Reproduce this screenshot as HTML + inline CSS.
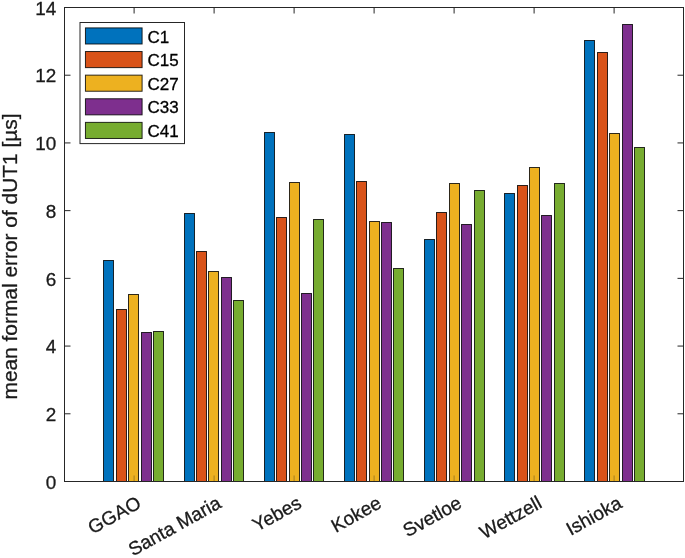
<!DOCTYPE html>
<html lang="en">
<head>
<meta charset="utf-8">
<title>mean formal error of dUT1</title>
<style>
html,body{margin:0;padding:0;background:#fff;}
body{width:685px;height:558px;overflow:hidden;font-family:"Liberation Sans",Arial,Helvetica,sans-serif;}
svg{display:block;will-change:transform;}
</style>
</head>
<body>
<svg width="685" height="558" viewBox="0 0 685 558" font-family="'Liberation Sans', Arial, Helvetica, sans-serif">
<rect x="0" y="0" width="685" height="558" fill="#ffffff"/>
<g stroke="#000" stroke-opacity="0.82" stroke-width="1.0">
<rect x="103.5" y="260.5" width="10" height="221.0" fill="#0072BD"/>
<rect x="116.5" y="309.5" width="10" height="172.0" fill="#D95319"/>
<rect x="128.5" y="294.5" width="10" height="187.0" fill="#EDB120"/>
<rect x="141.5" y="332.5" width="10" height="149.0" fill="#7E2F8E"/>
<rect x="153.5" y="331.5" width="10" height="150.0" fill="#77AC30"/>
<rect x="184.5" y="213.5" width="10" height="268.0" fill="#0072BD"/>
<rect x="196.5" y="251.5" width="10" height="230.0" fill="#D95319"/>
<rect x="208.5" y="271.5" width="10" height="210.0" fill="#EDB120"/>
<rect x="221.5" y="277.5" width="10" height="204.0" fill="#7E2F8E"/>
<rect x="233.5" y="300.5" width="10" height="181.0" fill="#77AC30"/>
<rect x="264.5" y="132.5" width="10" height="349.0" fill="#0072BD"/>
<rect x="276.5" y="217.5" width="10" height="264.0" fill="#D95319"/>
<rect x="289.5" y="182.5" width="10" height="299.0" fill="#EDB120"/>
<rect x="301.5" y="293.5" width="10" height="188.0" fill="#7E2F8E"/>
<rect x="313.5" y="219.5" width="10" height="262.0" fill="#77AC30"/>
<rect x="344.5" y="134.5" width="10" height="347.0" fill="#0072BD"/>
<rect x="356.5" y="181.5" width="10" height="300.0" fill="#D95319"/>
<rect x="369.5" y="221.5" width="10" height="260.0" fill="#EDB120"/>
<rect x="381.5" y="222.5" width="10" height="259.0" fill="#7E2F8E"/>
<rect x="393.5" y="268.5" width="10" height="213.0" fill="#77AC30"/>
<rect x="424.5" y="239.5" width="10" height="242.0" fill="#0072BD"/>
<rect x="436.5" y="212.5" width="10" height="269.0" fill="#D95319"/>
<rect x="449.5" y="183.5" width="10" height="298.0" fill="#EDB120"/>
<rect x="461.5" y="224.5" width="10" height="257.0" fill="#7E2F8E"/>
<rect x="474.5" y="190.5" width="10" height="291.0" fill="#77AC30"/>
<rect x="504.5" y="193.5" width="10" height="288.0" fill="#0072BD"/>
<rect x="517.5" y="185.5" width="10" height="296.0" fill="#D95319"/>
<rect x="529.5" y="167.5" width="10" height="314.0" fill="#EDB120"/>
<rect x="541.5" y="215.5" width="10" height="266.0" fill="#7E2F8E"/>
<rect x="554.5" y="183.5" width="10" height="298.0" fill="#77AC30"/>
<rect x="584.5" y="40.5" width="10" height="441.0" fill="#0072BD"/>
<rect x="597.5" y="52.5" width="10" height="429.0" fill="#D95319"/>
<rect x="609.5" y="133.5" width="10" height="348.0" fill="#EDB120"/>
<rect x="622.5" y="24.5" width="10" height="457.0" fill="#7E2F8E"/>
<rect x="634.5" y="147.5" width="10" height="334.0" fill="#77AC30"/>
</g>
<g stroke="#262626" stroke-width="1" fill="none">
<rect x="64.5" y="7.5" width="619.0" height="474.0"/>
<line x1="134.10" y1="481.5" x2="134.10" y2="475.5" stroke-opacity="0.35"/>
<line x1="134.10" y1="7.5" x2="134.10" y2="13.5"/>
<line x1="214.10" y1="481.5" x2="214.10" y2="475.5" stroke-opacity="0.35"/>
<line x1="214.10" y1="7.5" x2="214.10" y2="13.5"/>
<line x1="294.10" y1="481.5" x2="294.10" y2="475.5" stroke-opacity="0.35"/>
<line x1="294.10" y1="7.5" x2="294.10" y2="13.5"/>
<line x1="374.10" y1="481.5" x2="374.10" y2="475.5" stroke-opacity="0.35"/>
<line x1="374.10" y1="7.5" x2="374.10" y2="13.5"/>
<line x1="454.10" y1="481.5" x2="454.10" y2="475.5" stroke-opacity="0.35"/>
<line x1="454.10" y1="7.5" x2="454.10" y2="13.5"/>
<line x1="534.10" y1="481.5" x2="534.10" y2="475.5" stroke-opacity="0.35"/>
<line x1="534.10" y1="7.5" x2="534.10" y2="13.5"/>
<line x1="614.10" y1="481.5" x2="614.10" y2="475.5" stroke-opacity="0.35"/>
<line x1="614.10" y1="7.5" x2="614.10" y2="13.5"/>
<line x1="64.5" y1="481.50" x2="70.5" y2="481.50"/>
<line x1="683.5" y1="481.50" x2="677.5" y2="481.50"/>
<line x1="64.5" y1="413.79" x2="70.5" y2="413.79"/>
<line x1="683.5" y1="413.79" x2="677.5" y2="413.79"/>
<line x1="64.5" y1="346.07" x2="70.5" y2="346.07"/>
<line x1="683.5" y1="346.07" x2="677.5" y2="346.07"/>
<line x1="64.5" y1="278.36" x2="70.5" y2="278.36"/>
<line x1="683.5" y1="278.36" x2="677.5" y2="278.36"/>
<line x1="64.5" y1="210.64" x2="70.5" y2="210.64"/>
<line x1="683.5" y1="210.64" x2="677.5" y2="210.64"/>
<line x1="64.5" y1="142.93" x2="70.5" y2="142.93"/>
<line x1="683.5" y1="142.93" x2="677.5" y2="142.93"/>
<line x1="64.5" y1="75.21" x2="70.5" y2="75.21"/>
<line x1="683.5" y1="75.21" x2="677.5" y2="75.21"/>
<line x1="64.5" y1="7.50" x2="70.5" y2="7.50"/>
<line x1="683.5" y1="7.50" x2="677.5" y2="7.50"/>
</g>
<g font-size="18.9" fill="#1a1a1a" stroke="#1a1a1a" stroke-width="0.3" text-anchor="end">
<text x="56.2" y="489.00">0</text>
<text x="56.2" y="421.17">2</text>
<text x="56.2" y="353.34">4</text>
<text x="56.2" y="285.51">6</text>
<text x="56.2" y="217.68">8</text>
<text x="56.2" y="149.85">10</text>
<text x="56.2" y="82.02">12</text>
<text x="56.2" y="14.59">14</text>
</g>
<g font-size="19" fill="#1a1a1a" stroke="#1a1a1a" stroke-width="0.3" text-anchor="end">
<text transform="translate(142.40,506.80) rotate(-29)" x="0" y="0">GGAO</text>
<text transform="translate(222.55,506.80) rotate(-29)" x="0" y="0">Santa Maria</text>
<text transform="translate(302.70,506.80) rotate(-29)" x="0" y="0">Yebes</text>
<text transform="translate(382.85,506.80) rotate(-29)" x="0" y="0">Kokee</text>
<text transform="translate(463.00,506.80) rotate(-29)" x="0" y="0">Svetloe</text>
<text transform="translate(543.15,506.80) rotate(-29)" x="0" y="0">Wettzell</text>
<text transform="translate(623.30,506.80) rotate(-29)" x="0" y="0">Ishioka</text>
</g>
<text transform="translate(17.3,256.5) rotate(-90)" font-size="20.9" fill="#1a1a1a" stroke="#1a1a1a" stroke-width="0.3" text-anchor="middle">mean formal error of dUT1 [µs]</text>
<rect x="80.0" y="22.5" width="104.5" height="121.1" fill="#fff" stroke="#262626" stroke-width="1"/>
<rect x="85.45" y="27.90" width="56.65" height="16.1" fill="#0072BD" stroke="#000" stroke-opacity="0.82" stroke-width="1.0"/>
<text x="147.5" y="42.50" font-size="17" fill="#000" stroke="#000" stroke-width="0.3">C1</text>
<rect x="85.45" y="51.52" width="56.65" height="16.1" fill="#D95319" stroke="#000" stroke-opacity="0.82" stroke-width="1.0"/>
<text x="147.5" y="66.12" font-size="17" fill="#000" stroke="#000" stroke-width="0.3">C15</text>
<rect x="85.45" y="75.14" width="56.65" height="16.1" fill="#EDB120" stroke="#000" stroke-opacity="0.82" stroke-width="1.0"/>
<text x="147.5" y="89.74" font-size="17" fill="#000" stroke="#000" stroke-width="0.3">C27</text>
<rect x="85.45" y="98.76" width="56.65" height="16.1" fill="#7E2F8E" stroke="#000" stroke-opacity="0.82" stroke-width="1.0"/>
<text x="147.5" y="113.36" font-size="17" fill="#000" stroke="#000" stroke-width="0.3">C33</text>
<rect x="85.45" y="122.38" width="56.65" height="16.1" fill="#77AC30" stroke="#000" stroke-opacity="0.82" stroke-width="1.0"/>
<text x="147.5" y="136.98" font-size="17" fill="#000" stroke="#000" stroke-width="0.3">C41</text>
</svg>
</body>
</html>
